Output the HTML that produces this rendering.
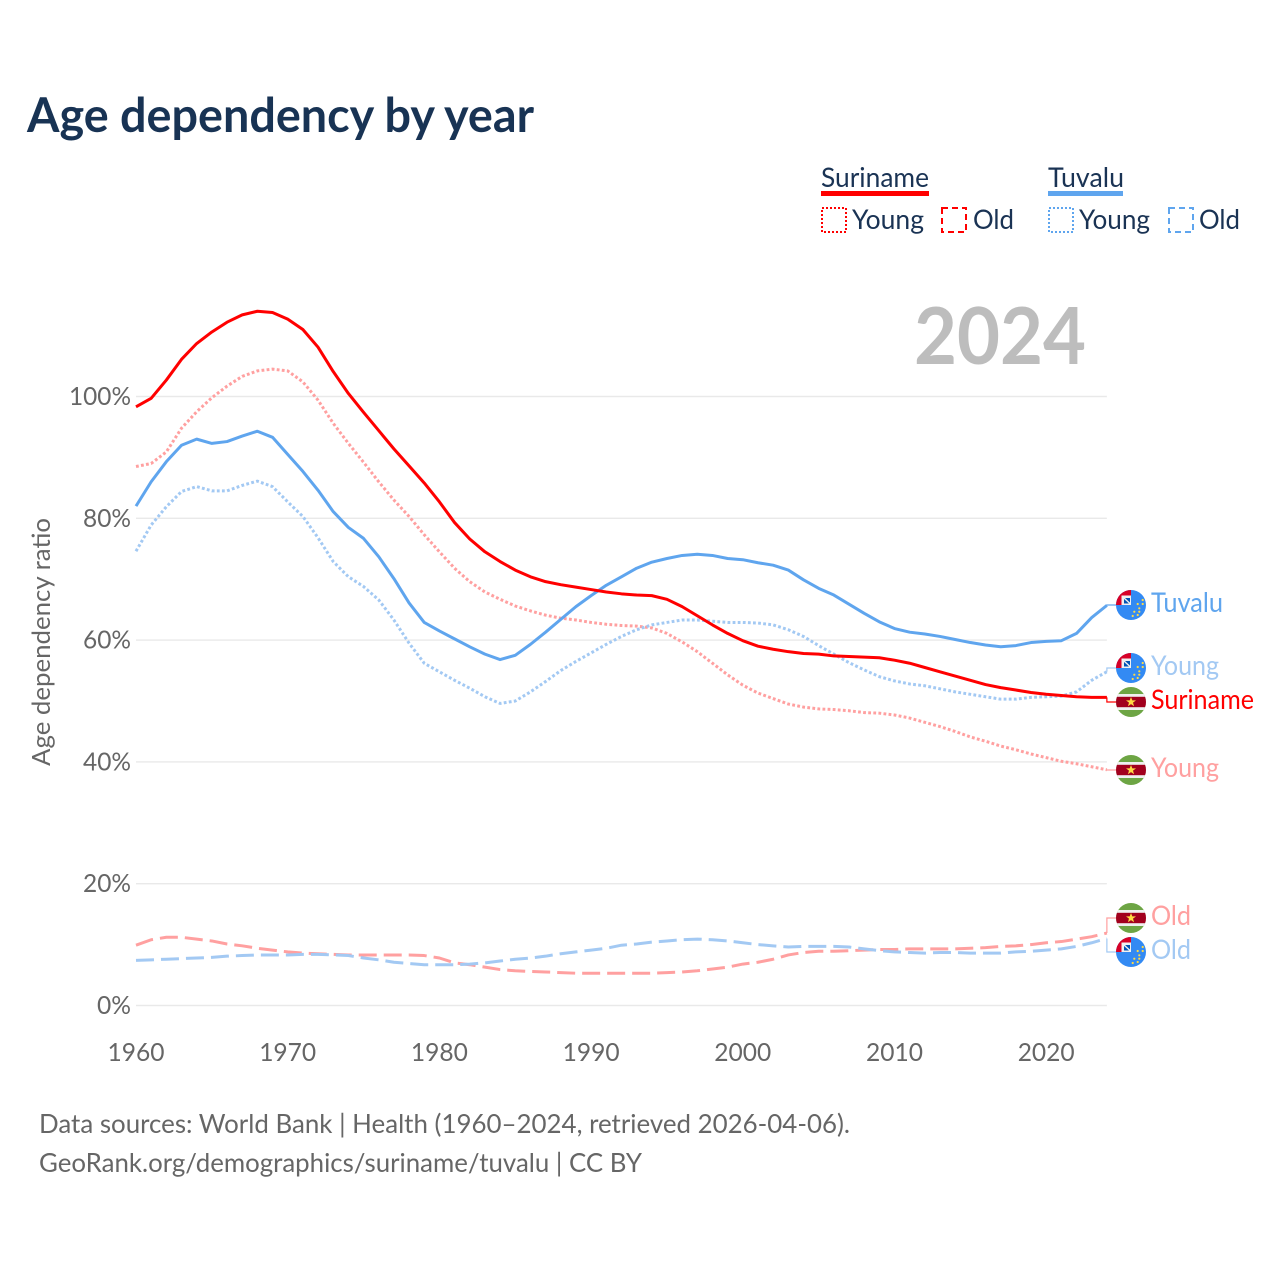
<!DOCTYPE html>
<html lang="en">
<head>
<meta charset="utf-8">
<title>Age dependency by year</title>
<style>
html,body{margin:0;padding:0;background:#fff;width:1280px;height:1280px;overflow:hidden}
svg{display:block}
text{font-family:"Lato","Carlito","Liberation Sans",sans-serif}
.tick{font-size:25px;fill:#666}
.lg{font-size:27px;fill:#1a3354}
.lab{font-size:27px}
.foot{font-size:26px;fill:#666}
</style>
</head>
<body>
<svg id="chart" xmlns="http://www.w3.org/2000/svg" width="1280" height="1280" viewBox="0 0 1280 1280">
  <defs>
    <clipPath id="flag-clip"><circle cx="0" cy="0" r="15"></circle></clipPath>
    <g id="flag-suriname" clip-path="url(#flag-clip)">
      <rect x="-15" y="-15" width="30" height="30" fill="#6da544"></rect>
      <rect x="-15" y="-8" width="30" height="16" fill="#f0f0f0"></rect>
      <rect x="-15" y="-5.2" width="30" height="10.4" fill="#a2001d"></rect>
      <polygon points="0,-5 1.3,-1.6 5,-1.6 2,0.6 3.1,4.2 0,2.1 -3.1,4.2 -2,0.6 -5,-1.6 -1.3,-1.6" fill="#ffda44"></polygon>
    </g>
    <g id="flag-tuvalu" clip-path="url(#flag-clip)">
      <rect x="-15" y="-15" width="30" height="30" fill="#338af3"></rect>
      <rect x="-15" y="-15" width="15" height="15" fill="#d80027"></rect>
      <rect x="-9.5" y="-9.5" width="9.5" height="9.5" fill="#f0f0f0"></rect>
      <rect x="-7" y="-7" width="6" height="5.5" fill="#0052b4"></rect>
      <path d="M-7 -7 L-1 -1.5" stroke="#f0f0f0" stroke-width="1.4"></path>
      <g fill="#ffda44">
        <circle cx="11.7" cy="-5" r="1.1"></circle><circle cx="6.7" cy="-1" r="1.1"></circle>
        <circle cx="11.7" cy="-1" r="1.1"></circle><circle cx="8.3" cy="3.3" r="1.1"></circle>
        <circle cx="3.3" cy="6.7" r="1.1"></circle><circle cx="8.3" cy="6.7" r="1.1"></circle>
        <circle cx="1.7" cy="11" r="1.1"></circle><circle cx="6.7" cy="10" r="1.1"></circle>
      </g>
    </g>
  </defs>

  <rect x="0" y="0" width="1280" height="1280" fill="#ffffff"></rect>
  <text x="27" y="132" font-size="48" font-weight="700" fill="#183354" textLength="507" lengthAdjust="spacingAndGlyphs">Age dependency by year</text>

  <g>
    <text class="lg" x="821" y="187" textLength="108" lengthAdjust="spacingAndGlyphs">Suriname</text>
    <rect x="821" y="191" width="108" height="5" fill="#ff0000"></rect>
    <rect x="822" y="208" width="24" height="24" fill="none" stroke="#ff0000" stroke-width="2" stroke-dasharray="2 2"></rect>
    <text class="lg" x="852" y="229" textLength="72" lengthAdjust="spacingAndGlyphs">Young</text>
    <rect x="942" y="208" width="24" height="24" fill="none" stroke="#ff0000" stroke-width="2" stroke-dasharray="6 4"></rect>
    <text class="lg" x="973" y="229" textLength="41" lengthAdjust="spacingAndGlyphs">Old</text>
    <text class="lg" x="1048" y="187" textLength="76" lengthAdjust="spacingAndGlyphs">Tuvalu</text>
    <rect x="1048" y="191" width="75" height="5" fill="#5fa5ee"></rect>
    <rect x="1049" y="208" width="24" height="24" fill="none" stroke="#5fa5ee" stroke-width="2" stroke-dasharray="2 2"></rect>
    <text class="lg" x="1079" y="229" textLength="71" lengthAdjust="spacingAndGlyphs">Young</text>
    <rect x="1169" y="208" width="24" height="24" fill="none" stroke="#5fa5ee" stroke-width="2" stroke-dasharray="6 4"></rect>
    <text class="lg" x="1199" y="229" textLength="41" lengthAdjust="spacingAndGlyphs">Old</text>
  </g>

  <text x="914" y="364" font-size="79" font-weight="700" fill="#bdbdbd" textLength="172" lengthAdjust="spacingAndGlyphs">2024</text>

  <g id="grid"></g>
  <g id="yticks"></g>
  <g id="xticks"></g>
  <text x="0" y="0" transform="translate(50,642) rotate(-90)" text-anchor="middle" font-size="25" fill="#666" textLength="248" lengthAdjust="spacingAndGlyphs">Age dependency ratio</text>

  <g id="series"></g>

  <g id="end-labels">
    <use href="#flag-tuvalu" x="1131" y="605"></use>
    <text class="lab" x="1151" y="612" fill="#5fa5ee" textLength="72" lengthAdjust="spacingAndGlyphs">Tuvalu</text>
    <use href="#flag-tuvalu" x="1131" y="668"></use>
    <text class="lab" x="1151" y="675" fill="#a3c9f3" textLength="68" lengthAdjust="spacingAndGlyphs">Young</text>
    <use href="#flag-suriname" x="1131" y="702"></use>
    <text class="lab" x="1151" y="709" fill="#ff0000" textLength="103" lengthAdjust="spacingAndGlyphs">Suriname</text>
    <use href="#flag-suriname" x="1131" y="770"></use>
    <text class="lab" x="1151" y="777" fill="#ffa0a0" textLength="68" lengthAdjust="spacingAndGlyphs">Young</text>
    <use href="#flag-suriname" x="1131" y="918"></use>
    <text class="lab" x="1151" y="925" fill="#ffa0a0" textLength="40" lengthAdjust="spacingAndGlyphs">Old</text>
    <use href="#flag-tuvalu" x="1131" y="952"></use>
    <text class="lab" x="1151" y="959" fill="#a3c9f3" textLength="40" lengthAdjust="spacingAndGlyphs">Old</text>
  </g>

  <text class="foot" x="39" y="1133" textLength="811" lengthAdjust="spacingAndGlyphs">Data sources: World Bank | Health (1960–2024, retrieved 2026-04-06).</text>
  <text class="foot" x="39" y="1172" textLength="603" lengthAdjust="spacingAndGlyphs">GeoRank.org/demographics/suriname/tuvalu | CC BY</text>
</svg>

<script>
var startYear = 1960;
var yTickValues = [0, 20, 40, 60, 80, 100];
var xTickYears = [1960, 1970, 1980, 1990, 2000, 2010, 2020];

var surinameTotal = [98.3,99.7,102.7,106.1,108.7,110.6,112.2,113.4,114.0,113.8,112.7,111.0,108.1,104.1,100.5,97.4,94.4,91.4,88.6,85.8,
82.7,79.3,76.6,74.5,72.9,71.5,70.4,69.6,69.1,68.7,68.3,67.9,67.6,67.4,67.3,66.7,65.5,64.0,62.5,61.1,59.9,59.0,
58.5,58.1,57.8,57.7,57.4,57.3,57.2,57.1,56.7,56.2,55.5,54.8,54.1,53.4,52.7,52.2,51.8,51.4,51.1,50.9,50.7,50.6,50.6];

var surinameYoung = [88.5,89.0,90.9,94.8,97.5,99.8,101.7,103.3,104.2,104.5,104.2,102.4,99.4,95.6,92.3,89.2,86.0,83.0,80.3,77.3,
74.5,71.8,69.6,67.9,66.7,65.6,64.8,64.1,63.6,63.3,62.9,62.6,62.4,62.3,62.0,61.1,59.7,58.1,56.2,54.3,52.6,51.3,
50.4,49.5,49.0,48.7,48.6,48.4,48.1,48.0,47.7,47.2,46.5,45.8,45.0,44.1,43.4,42.6,42.0,41.3,40.7,40.1,39.7,39.2,38.7];

var surinameOld = [9.9,10.8,11.2,11.2,10.9,10.6,10.1,9.8,9.4,9.1,8.8,8.6,8.5,8.4,8.3,8.3,8.3,8.3,8.3,8.2,
7.8,7.0,6.7,6.3,5.9,5.7,5.6,5.5,5.4,5.3,5.3,5.3,
5.3,5.3,5.3,5.4,5.5,5.7,6.0,6.3,6.8,7.1,7.6,8.3,8.7,8.9,8.9,9.0,9.1,9.2,9.2,9.3,9.3,9.3,9.3,9.4,9.5,9.7,9.8,10.0,10.3,10.5,10.9,11.3,11.9];

var tuvaluTotal = [82.0,86.0,89.3,92.0,93.0,92.3,92.6,93.5,94.3,93.3,90.5,87.7,84.6,81.1,78.5,76.7,73.7,70.1,66.1,62.9,
61.5,60.2,58.9,57.7,56.8,57.5,59.3,61.3,63.4,65.5,67.3,69.0,70.4,71.8,72.8,73.4,73.9,74.1,73.9,73.4,73.2,72.7,
72.3,71.5,69.9,68.5,67.4,65.9,64.4,63.0,61.9,61.3,61.0,60.6,60.1,59.6,59.2,58.9,59.1,59.6,59.8,59.9,61.1,63.7,65.7];

var tuvaluYoung = [74.6,78.9,81.9,84.4,85.2,84.5,84.5,85.4,86.1,85.2,82.7,80.3,76.8,72.9,70.4,68.8,66.6,63.3,59.5,56.2,
54.8,53.4,52.1,50.7,49.6,50.0,51.5,53.2,55.0,56.5,57.9,59.3,60.6,61.7,62.5,62.9,63.3,63.3,63.1,62.9,62.9,62.8,
62.5,61.7,60.6,59.1,57.7,56.3,55.1,54.0,53.3,52.8,52.5,52.0,51.5,51.1,50.7,50.3,50.3,50.6,50.7,50.8,51.5,53.4,54.8];

var tuvaluOld = [7.4,7.5,7.6,7.7,7.8,7.9,8.1,8.2,8.3,8.3,8.3,8.4,8.4,8.3,8.2,7.8,7.5,7.1,6.9,6.7,
6.7,6.7,6.8,7.0,7.3,7.6,7.8,8.1,8.5,8.8,9.1,9.4,
9.9,10.1,10.4,10.6,10.8,10.9,10.8,10.6,10.3,10.0,9.8,9.6,9.7,9.7,9.7,9.6,9.3,9.0,8.8,8.7,8.6,8.7,8.7,8.6,8.6,8.6,8.8,8.9,9.1,9.3,9.7,10.3,11.0];

var NS = 'http://www.w3.org/2000/svg';
function xScale(year) { return 136 + (year - 1960) * 15.17; }
function yScale(value) { return 1005.5 - value * 6.09; }

var gridG = document.getElementById('grid');
var yG = document.getElementById('yticks');
var xG = document.getElementById('xticks');
var seriesG = document.getElementById('series');

yTickValues.forEach(function (v) {
  var line = document.createElementNS(NS, 'line');
  
  
  line.setAttribute('x1', 136);
  line.setAttribute('x2', xScale(2024));
  line.setAttribute('y1', yScale(v));
  line.setAttribute('y2', yScale(v));
  line.setAttribute('stroke', '#e9e9e9');
  line.setAttribute('stroke-width', '1.4');
  gridG.appendChild(line);

  var t = document.createElementNS(NS, 'text');
  
  
  t.setAttribute('class', 'tick');
  t.setAttribute('x', 131);
  t.setAttribute('y', yScale(v) + 8.5);
  t.setAttribute('text-anchor', 'end');
  t.setAttribute('textLength', v === 100 ? 62 : (v === 0 ? 34 : 48));
  t.setAttribute('lengthAdjust', 'spacingAndGlyphs');
  t.textContent = v + '%';
  yG.appendChild(t);
});

xTickYears.forEach(function (yr) {
  var t = document.createElementNS(NS, 'text');
  
  
  t.setAttribute('class', 'tick');
  t.setAttribute('x', xScale(yr));
  t.setAttribute('y', 1061);
  t.setAttribute('text-anchor', 'middle');
  t.setAttribute('textLength', 57);
  t.setAttribute('lengthAdjust', 'spacingAndGlyphs');
  t.textContent = yr;
  xG.appendChild(t);
});

function drawSeries(name, values, color, width, dash, labelY) {
  var d = '';
  values.forEach(function (v, i) {
    d += (i ? 'L' : 'M') + xScale(startYear + i).toFixed(2) + ' ' + yScale(v).toFixed(2);
  });
  var p = document.createElementNS(NS, 'path');
  
  
  p.setAttribute('d', d);
  p.setAttribute('fill', 'none');
  p.setAttribute('stroke', color);
  p.setAttribute('stroke-width', width);
  p.setAttribute('stroke-linejoin', 'round');
  if (dash) p.setAttribute('stroke-dasharray', dash);
  seriesG.appendChild(p);

  var ex = xScale(startYear + values.length - 1);
  var ey = yScale(values[values.length - 1]);
  var c = document.createElementNS(NS, 'path');
  
  
  c.setAttribute('d', 'M' + ex + ' ' + ey + 'V' + labelY + 'H1116');
  c.setAttribute('fill', 'none');
  c.setAttribute('stroke', color);
  c.setAttribute('stroke-width', '1.2');
  seriesG.appendChild(c);
}

drawSeries('line-suriname-old', surinameOld, '#ffa0a0', 3, '18 7', 918);
drawSeries('line-tuvalu-old', tuvaluOld, '#a3c9f3', 3, '18 7', 952);
drawSeries('line-suriname-young', surinameYoung, '#ffa0a0', 3, '2.8 2.3', 770);
drawSeries('line-tuvalu-young', tuvaluYoung, '#a3c9f3', 3, '2.8 2.3', 668);
drawSeries('line-tuvalu-total', tuvaluTotal, '#5fa5ee', 3, '', 605);
drawSeries('line-suriname-total', surinameTotal, '#ff0000', 3, '', 702);
</script>
</body>
</html>
